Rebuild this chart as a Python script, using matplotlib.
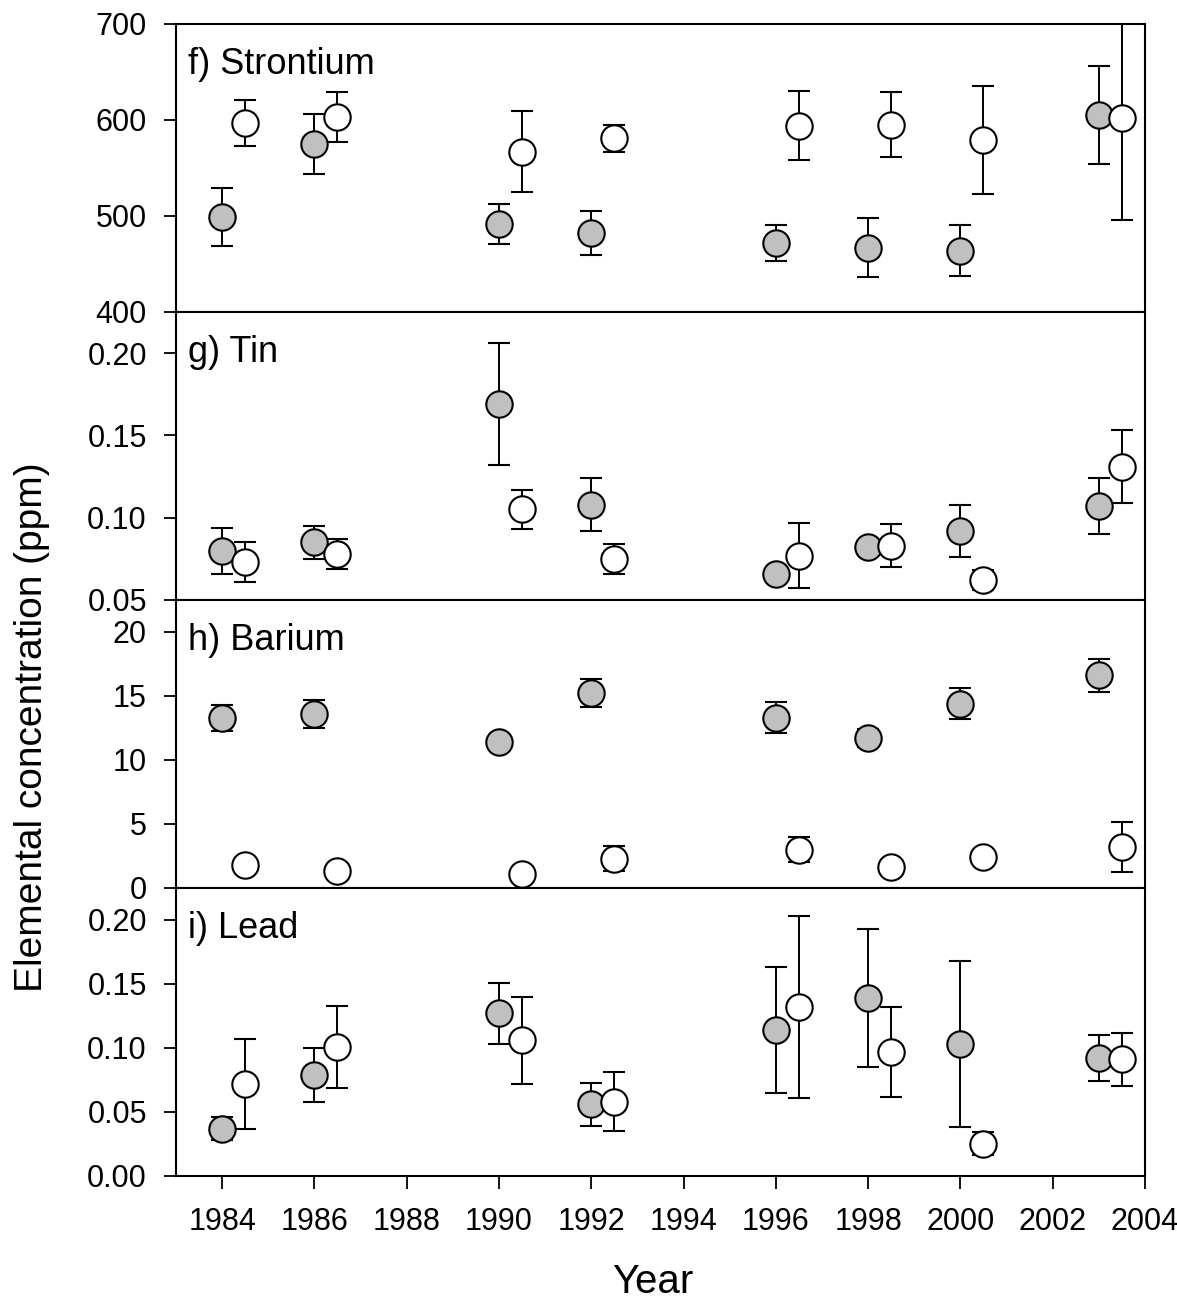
import matplotlib
matplotlib.use("Agg")
import matplotlib.pyplot as plt
import numpy as np

plt.rcParams['font.family'] = ['Liberation Sans', 'DejaVu Sans']

years_grey = [1984, 1986, 1990, 1992, 1996, 1998, 2000, 2003]
years_white = [1984.5, 1986.5, 1990.5, 1992.5, 1996.5, 1998.5, 2000.5, 2003.5]

# strontium
sr_grey = [499, 575, 492, 482, 472, 467, 464, 605]
sr_grey_err = [30, 31, 21, 23, 19, 31, 27, 51]
sr_white = [597, 603, 567, 581, 594, 595, 579, 602]
sr_white_err = [24, 26, 42, 14, 36, 34, 56, 106]

# tin
sn_grey = [0.080, 0.085, 0.169, 0.108, 0.066, 0.082, 0.092, 0.107]
sn_grey_err = [0.014, 0.010, 0.037, 0.016, 0.003, 0.003, 0.016, 0.017]
sn_white = [0.073, 0.078, 0.105, 0.075, 0.077, 0.083, 0.062, 0.131]
sn_white_err = [0.012, 0.009, 0.012, 0.009, 0.020, 0.013, 0.006, 0.022]

# barium
ba_grey = [13.3, 13.6, 11.4, 15.2, 13.3, 11.7, 14.4, 16.6]
ba_grey_err = [1.0, 1.1, 0.3, 1.1, 1.2, 0.7, 1.2, 1.3]
ba_white = [1.8, 1.3, 1.1, 2.3, 3.0, 1.6, 2.4, 3.2]
ba_white_err = [0.3, 0.2, 0.2, 1.0, 1.0, 0.3, 0.3, 1.95]

# lead
pb_grey = [0.037, 0.079, 0.127, 0.056, 0.114, 0.139, 0.103, 0.092]
pb_grey_err = [0.009, 0.021, 0.024, 0.017, 0.049, 0.054, 0.065, 0.018]
pb_white = [0.072, 0.101, 0.106, 0.058, 0.132, 0.097, 0.025, 0.091]
pb_white_err = [0.035, 0.032, 0.034, 0.023, 0.071, 0.035, 0.009, 0.021]

panels = [
    ("f) Strontium", sr_grey, sr_grey_err, sr_white, sr_white_err, (400, 700), [400, 500, 600, 700], "%d"),
    ("g) Tin", sn_grey, sn_grey_err, sn_white, sn_white_err, (0.05, 0.225), [0.05, 0.10, 0.15, 0.20], "%.2f"),
    ("h) Barium", ba_grey, ba_grey_err, ba_white, ba_white_err, (0, 22.5), [0, 5, 10, 15, 20], "%d"),
    ("i) Lead", pb_grey, pb_grey_err, pb_white, pb_white_err, (0, 0.225), [0.00, 0.05, 0.10, 0.15, 0.20], "%.2f"),
]

fig = plt.figure(figsize=(11.77, 13.04), dpi=100)
gs = fig.add_gridspec(4, 1, left=0.1495, right=0.9728, top=0.9816, bottom=0.0982, hspace=0)

for i, (label, yg, eg, yw, ew, ylim, yticks, fmt) in enumerate(panels):
    ax = fig.add_subplot(gs[i])
    ax.errorbar(years_grey, yg, yerr=eg, fmt='o', color='black', ecolor='black',
                markerfacecolor='#c0c0c0', markeredgecolor='black', markersize=19,
                markeredgewidth=1.5, elinewidth=1.4, capsize=8, capthick=2, zorder=3)
    ax.errorbar(years_white, yw, yerr=ew, fmt='o', color='black', ecolor='black',
                markerfacecolor='white', markeredgecolor='black', markersize=19,
                markeredgewidth=1.5, elinewidth=1.4, capsize=8, capthick=2, zorder=3)
    ax.set_xlim(1983, 2004)
    ax.set_ylim(*ylim)
    ax.set_yticks(yticks)
    ax.set_yticklabels([fmt % v for v in yticks])
    ax.set_xticks(range(1984, 2005, 2))
    ax.tick_params(direction='out', length=9, width=1.3, labelsize=22, top=False, right=False)
    ax.tick_params(axis='y', pad=12)
    ax.tick_params(axis='x', pad=13)
    for s in ax.spines.values():
        s.set_linewidth(1.5)
    ax.text(0.012, 0.92, label, transform=ax.transAxes, fontsize=26, va='top', ha='left')
    if i < 3:
        ax.tick_params(labelbottom=False)

fig.text(0.555, 0.017, "Year", fontsize=29, va='center', ha='center')
fig.text(0.027, 0.4425, "Elemental concentration (ppm)", rotation=90, fontsize=28,
         va='center', ha='center')

fig.savefig("out.png", dpi=100)
